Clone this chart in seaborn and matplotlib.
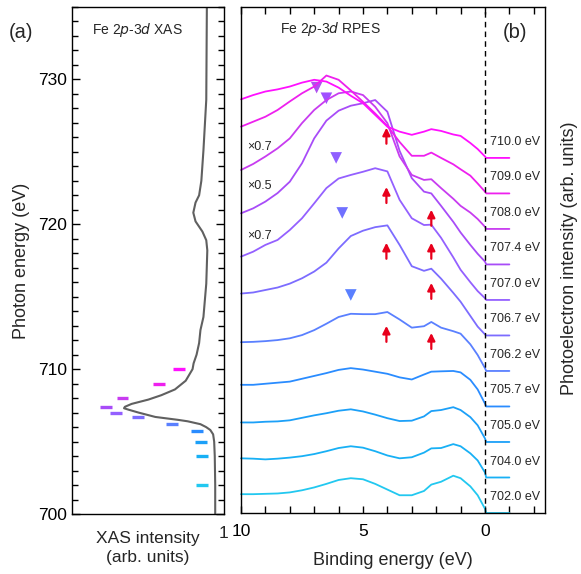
import numpy as np
import pandas as pd
import matplotlib
matplotlib.use("Agg")
import matplotlib.pyplot as plt
import seaborn as sns
from matplotlib.ticker import MultipleLocator

# ---------------- data ----------------
photon_labels = ["702.0", "704.0", "705.0", "705.7", "706.2", "706.7",
                 "707.0", "707.4", "708.0", "709.0", "710.0"]
photon_energy = [702.0, 704.0, 705.0, 705.7, 706.2, 706.7, 707.0, 707.4, 708.0, 709.0, 710.0]
curve_colors = ["#22C8F0", "#18B0F5", "#1CA0F8", "#2A8CFF", "#5A80FF", "#7C6CFF",
                "#9460FF", "#A84CF8", "#C83CF0", "#EE20EE", "#FF10FF"]

# binding energies (eV)
be = [10, 9.5, 9, 8.5, 8, 7.5, 7, 6.5, 6, 5.5, 5, 4.5, 4, 3.5, 3, 2.5, 2.2, 1.8,
      1.3, 1.0, 0.6, 0.3, 0.0, -0.05, -1.0]

int_702 = [0.53, 0.53, 0.54, 0.55, 0.58, 0.64, 0.72, 0.82, 0.93, 0.98, 0.95, 0.82, 0.66,
           0.50, 0.50, 0.62, 0.80, 0.88, 1.05, 0.98, 0.75, 0.50, 0.12, 0.0, 0.0]
int_704 = [0.54, 0.53, 0.51, 0.53, 0.56, 0.60, 0.66, 0.74, 0.83, 0.88, 0.84, 0.74, 0.62,
           0.54, 0.57, 0.70, 0.82, 0.83, 0.94, 0.88, 0.68, 0.48, 0.14, 0.0, 0.0]
int_705 = [0.55, 0.55, 0.57, 0.58, 0.61, 0.68, 0.75, 0.81, 0.88, 0.92, 0.86, 0.77, 0.67,
           0.59, 0.60, 0.72, 0.87, 0.90, 0.98, 0.90, 0.70, 0.47, 0.10, 0.0, 0.0]
int_705_7 = [0.61, 0.61, 0.64, 0.67, 0.70, 0.78, 0.86, 0.94, 1.03, 1.08, 1.04, 0.98, 0.92,
             0.82, 0.76, 0.90, 0.98, 0.99, 1.00, 0.96, 0.75, 0.48, 0.08, 0.0, 0.0]
int_706_2 = [0.81, 0.82, 0.84, 0.87, 0.92, 1.01, 1.15, 1.33, 1.52, 1.61, 1.60, 1.60, 1.66,
             1.45, 1.22, 1.26, 1.38, 1.22, 1.12, 1.05, 0.75, 0.45, 0.08, 0.0, 0.0]
int_706_7 = [1.18, 1.21, 1.28, 1.35, 1.46, 1.61, 1.80, 2.05, 2.45, 2.80, 2.95, 3.05, 3.10,
             2.55, 1.95, 1.82, 1.88, 1.60, 1.20, 0.95, 0.55, 0.25, 0.03, 0.0, 0.0]
int_707_0 = [1.22, 1.36, 1.55, 1.69, 1.97, 2.30, 2.72, 3.15, 3.42, 3.52, 3.61, 3.71, 3.62,
             2.82, 2.30, 2.11, 2.12, 1.75, 1.20, 0.85, 0.50, 0.25, 0.05, 0.0, 0.0]
int_707_4 = [1.44, 1.58, 1.77, 2.01, 2.33, 2.85, 3.55, 4.05, 4.33, 4.47, 4.54, 4.63, 4.30,
             3.20, 2.43, 2.05, 2.00, 1.65, 1.20, 0.90, 0.55, 0.30, 0.08, 0.0, 0.0]
int_708 = [1.66, 1.83, 2.04, 2.27, 2.55, 2.98, 3.35, 3.63, 3.82, 3.87, 3.77, 3.44, 2.98,
           2.04, 1.52, 1.38, 1.40, 1.15, 0.85, 0.65, 0.46, 0.28, 0.06, 0.0, 0.0]
int_709 = [1.88, 2.02, 2.16, 2.35, 2.59, 2.82, 3.01, 3.32, 3.20, 2.90, 2.58, 2.25, 1.90,
           1.45, 1.06, 1.06, 1.15, 1.00, 0.82, 0.68, 0.50, 0.28, 0.05, 0.0, 0.0]
int_710 = [1.65, 1.77, 1.87, 1.93, 2.01, 2.12, 2.20, 2.15, 1.98, 1.75, 1.54, 1.21, 0.88,
           0.74, 0.65, 0.74, 0.81, 0.76, 0.66, 0.62, 0.42, 0.25, 0.04, 0.0, 0.0]
spectra = [int_702, int_704, int_705, int_705_7, int_706_2, int_706_7,
           int_707_0, int_707_4, int_708, int_709, int_710]

# XAS curve (photon energy vs. inverted intensity, 0..1 across panel)
xas_energy = [700, 702, 704, 705, 705.5, 705.8, 706.0, 706.2, 706.4, 706.5, 706.7, 707.0,
              707.2, 707.3, 707.4, 707.6, 707.9, 708.2, 708.6, 709.2, 710.0, 710.4, 711.0,
              711.8, 712.7, 713.6, 715.9, 718.2, 718.9, 719.5, 720.2, 720.8, 721.5, 722.0,
              723.0, 725.1, 728.6, 735]
xas_int = [0.961, 0.961, 0.958, 0.954, 0.947, 0.928, 0.900, 0.862, 0.776, 0.711, 0.559, 0.447,
           0.380, 0.349, 0.355, 0.400, 0.513, 0.599, 0.691, 0.763, 0.809, 0.816, 0.836,
           0.853, 0.862, 0.882, 0.901, 0.908, 0.901, 0.875, 0.829, 0.814, 0.829, 0.853,
           0.868, 0.882, 0.901, 0.905]

# excitation energy markers on the XAS panel
marker_pos = [0.875, 0.875, 0.868, 0.836, 0.671, 0.444, 0.296, 0.230, 0.339, 0.586, 0.717]

# scale factors
scale_labels = ["×0.7", "×0.5", "×0.7"]
scale_y = [10.3, 9.2, 7.8]

# satellite triangles (binding energy, height)
tri_be = [6.9, 6.5, 6.1, 5.85, 5.5]
tri_y = [11.98, 11.68, 10.0, 8.45, 6.14]
tri_colors = ["#B050F0", "#A050FF", "#9060FF", "#7070FF", "#5A80FF"]

# red arrows (binding energy, tip height)
arrow_be = [4.04, 4.04, 4.04, 4.04, 2.2, 2.2, 2.2, 2.2]
arrow_tip = [10.85, 9.18, 7.61, 5.27, 8.54, 7.61, 6.48, 5.07]

# ---------------- figure ----------------
sns.set_theme(style="ticks")
plt.rcParams["font.family"] = ["Liberation Sans", "DejaVu Sans"]
plt.rcParams["axes.linewidth"] = 1.0

W, H = 581, 574
fig = plt.figure(figsize=(W / 100, H / 100), dpi=100)
ax1 = fig.add_axes([72 / W, 1 - 514 / H, 152 / W, 507 / H])
ax2 = fig.add_axes([241 / W, 1 - 513 / H, 304 / W, 506 / H])

# ---- left: XAS ----
xas_df = pd.DataFrame({"x": xas_int, "y": xas_energy})
sns.lineplot(data=xas_df, x="x", y="y", sort=False, estimator=None, ax=ax1,
             color="#606060", lw=1.5)
for e, xm, c in zip(photon_energy, marker_pos, curve_colors):
    ax1.hlines(e, xm - 0.04, xm + 0.04, color=c, lw=2.4, capstyle="butt")
ax1.set_xlim(0, 1)
ax1.set_ylim(700, 735)
ax1.yaxis.set_major_locator(MultipleLocator(10))
ax1.yaxis.set_minor_locator(MultipleLocator(1))
ax1.tick_params(axis="y", which="both", direction="in", left=True, right=True,
                labelsize=12.5, colors="black")
ax1.tick_params(axis="y", which="major", length=6, width=1)
ax1.tick_params(axis="y", which="minor", length=4, width=1)
ax1.set_xticks([1.02])
ax1.set_xticklabels(["1"])
ax1.tick_params(axis="x", length=0, labelsize=12.5, pad=9)
ax1.set_xlabel("")
ax1.set_ylabel("Photon energy (eV)", fontsize=13, labelpad=6)
for s in ax1.spines.values():
    s.set_visible(True)
    s.set_color("black")
ax1.text(0.13, 0.955, "Fe 2$\\it{p}$-3$\\it{d}$ XAS", transform=ax1.transAxes,
         fontsize=10, ha="left", va="center")

# ---- right: RPES ----
rows = []
for i, (lab, vals) in enumerate(zip(photon_labels, spectra)):
    for b, v in zip(be, vals):
        rows.append({"be": b, "y": v + i, "hv": lab})
rp = pd.DataFrame(rows)
sns.lineplot(data=rp, x="be", y="y", hue="hv", palette=dict(zip(photon_labels, curve_colors)),
             sort=False, estimator=None, legend=False, lw=1.3, ax=ax2)
for ln in ax2.lines:
    ln.set_clip_on(False)
ax2.axvline(0, color="black", lw=1, ls=(0, (4, 3)))
ax2.set_xlim(10, -2.46)
ax2.set_ylim(0, 14.25)
ax2.set_yticks([])
ax2.xaxis.set_major_locator(MultipleLocator(5))
ax2.xaxis.set_minor_locator(MultipleLocator(1))
ax2.tick_params(axis="x", which="both", direction="in", top=True, bottom=True,
                length=5, width=1, labelsize=12.5, colors="black", pad=8)
ax2.set_xlabel("Binding energy (eV)", fontsize=13, labelpad=9)
ax2.set_ylabel("")
for s in ax2.spines.values():
    s.set_visible(True)
    s.set_color("black")

for i, lab in enumerate(photon_labels):
    ax2.text(-0.2, i + 0.45, f"{lab} eV", fontsize=9, ha="left", va="center")
for t, y in zip(scale_labels, scale_y):
    ax2.text(9.75, y, t, fontsize=9, ha="left", va="center")

sns.scatterplot(x=tri_be, y=tri_y, hue=list(range(len(tri_be))),
                palette=tri_colors, marker="v", s=70, linewidth=0, legend=False, ax=ax2)
for b, t in zip(arrow_be, arrow_tip):
    ax2.annotate("", xy=(b, t), xytext=(b, t - 0.45),
                 arrowprops=dict(arrowstyle="-|>", color="#E8001C", lw=1.6,
                                 mutation_scale=11, shrinkA=0, shrinkB=0))

ax2.text(0.128, 0.957, "Fe 2$\\it{p}$-3$\\it{d}$ RPES", transform=ax2.transAxes,
         fontsize=10, ha="left", va="center")

# ---- figure texts ----
fig.text(21 / W, 1 - 33 / H, "(a)", fontsize=14.5, ha="center", va="center")
fig.text(515 / W, 1 - 33 / H, "(b)", fontsize=14.5, ha="center", va="center")
fig.text(148 / W, 1 - 548 / H, "XAS intensity\n(arb. units)", fontsize=12.5,
         ha="center", va="center", linespacing=1.3)
fig.text(570 / W, 1 - 258 / H, "Photoelectron intensity (arb. units)", fontsize=13,
         rotation=90, ha="center", va="center")

fig.savefig("out.png", dpi=100)
